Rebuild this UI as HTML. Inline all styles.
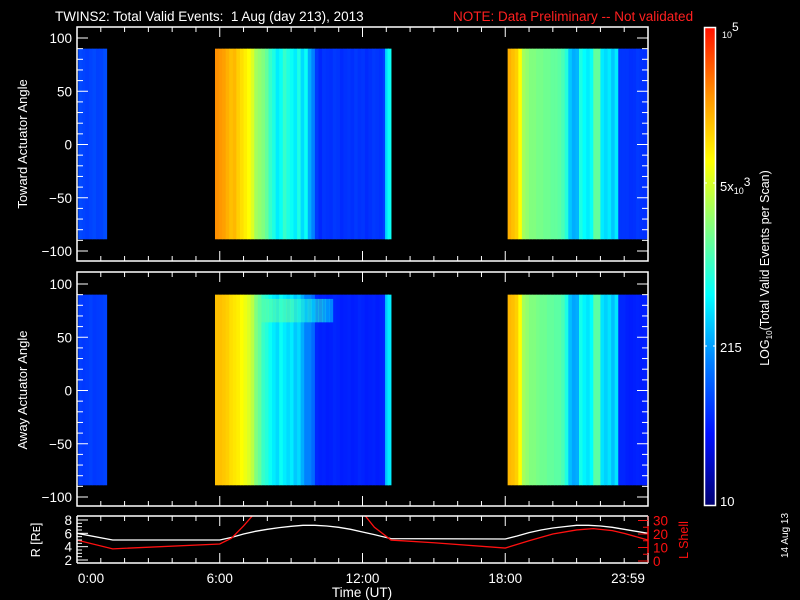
<!DOCTYPE html>
<html><head><meta charset="utf-8"><style>
html,body{margin:0;padding:0;background:#000;}
svg{display:block;font-family:"Liberation Sans",sans-serif;}
</style></head><body>
<svg id="chart" width="800" height="600" viewBox="0 0 800 600">
<defs>
<linearGradient id="cbar" x1="0" y1="1" x2="0" y2="0">
<stop offset="0" stop-color="#000070"/><stop offset="0.15" stop-color="#0010ff"/><stop offset="0.3" stop-color="#0080ff"/>
<stop offset="0.44" stop-color="#00ffff"/><stop offset="0.58" stop-color="#80ff80"/><stop offset="0.72" stop-color="#ffff00"/>
<stop offset="0.86" stop-color="#ff9000"/><stop offset="1" stop-color="#ff1000"/>
</linearGradient>
<clipPath id="bclip"><rect x="77" y="516" width="571" height="47"/></clipPath>
</defs>
<rect x="0" y="0" width="800" height="600" fill="#000"/>
<text x="55" y="21" font-size="13.5" fill="#fff" xml:space="preserve">TWINS2: Total Valid Events:  1 Aug (day 213), 2013</text>
<text x="453" y="21" font-size="13.5" fill="#ff2020">NOTE: Data Preliminary -- Not validated</text>
<g id="p1"></g>
<g id="p2"></g>
<g id="p3"></g>
<g id="cb">
<rect x="704.5" y="27.5" width="11" height="478" fill="url(#cbar)" stroke="#fff" stroke-width="1.5"/>
<line x1="704" y1="183" x2="716" y2="183" stroke="#fff" stroke-dasharray="3,6"/>
<line x1="704" y1="346" x2="716" y2="346" stroke="#fff" stroke-dasharray="3,6"/>
<text x="722" y="38" font-size="9" fill="#fff">10<tspan dy="-7" font-size="12">5</tspan></text>
<text x="720" y="191" font-size="13" fill="#fff">5x<tspan font-size="9" dy="3">10</tspan><tspan dy="-8" font-size="12">3</tspan></text>
<text x="720" y="352" font-size="13" fill="#fff">215</text>
<text x="720" y="506" font-size="13" fill="#fff">10</text>
<text transform="translate(769,268) rotate(-90)" text-anchor="middle" font-size="12.5" fill="#fff">LOG<tspan font-size="8" dy="3">10</tspan><tspan dy="-3">(Total Valid Events per Scan)</tspan></text>
</g>
<text transform="translate(788,558) rotate(-90)" font-size="10" fill="#fff">14 Aug 13</text>
</svg>
<script>
const binStart = [0.05,0.2,0.35,0.5,0.65,0.8,0.95,1.1,
5.8,5.95,6.1,6.25,6.4,6.55,6.7,6.85,7.0,7.15,7.3,7.45,7.6,7.75,7.9,8.05,8.2,8.35,8.5,8.65,8.8,8.95,9.1,9.25,9.4,9.55,9.7,9.85,
10.0,10.15,10.3,10.45,10.6,10.75,10.9,11.05,11.2,11.35,11.5,11.65,11.8,11.95,12.1,12.25,12.4,12.55,12.7,12.85,12.95,13.05,
18.1,18.25,18.4,18.55,18.7,18.85,19.0,19.15,19.3,19.45,19.6,19.75,19.9,20.05,20.2,20.35,20.5,20.65,20.8,20.95,21.1,21.25,21.4,21.55,21.7,21.85,22.0,22.15,22.3,22.45,22.6,22.75,22.9,
23.05,23.2,23.35,23.5,23.65,23.8];
const towardCounts = [80,75,70,75,80,72,75,85,
27500,25100,23000,19000,15800,17300,13200,11000,9100,7600,5250,3000,2500,2100,1580,1000,760,480,630,1000,760,630,480,760,400,630,250,160,
66,52,63,60,58,66,63,55,60,63,58,66,60,63,55,60,66,63,58,70,400,630,
19000,15800,13200,7600,3000,2500,2100,2100,1900,1900,1750,1750,1580,1580,1450,1200,830,330,250,275,760,575,480,630,1580,1580,480,400,480,330,480,63,63,
63,58,60,66,60,58];
const awayCounts = [70,65,68,72,65,68,70,75,
15800,15800,14500,13200,11000,10000,9100,7600,6300,5250,3800,2100,1580,1000,830,630,480,400,630,480,400,480,330,400,250,160,160,120,
52,48,50,46,48,52,50,46,48,50,46,48,52,50,46,48,50,46,48,52,330,480,
17300,15800,13200,7600,3000,2500,2100,2100,1900,1750,1750,1580,1580,1450,1450,1200,760,300,230,250,700,520,440,575,1450,1450,440,360,440,300,440,52,52,
48,46,48,50,46,48];
const binWidth = 0.15;
const awayBandTimes = [7.6,7.75,7.9,8.05,8.2,8.35,8.5,8.65,8.8,8.95,9.1,9.25,9.4,9.55,9.7,9.85,10.0,10.15,10.3,10.45,10.6];
const awayBandCounts = [1500,1500,1600,1700,1600,1500,1400,1600,1700,1500,1200,1000,900,700,900,600,800,900,700,500,400];
const rTimes = [0,1.5,6,6.5,7,7.5,8,8.5,9,9.5,10,10.5,11,11.5,12,12.5,13.2,18,18.5,19,19.5,20,20.5,21,21.5,22,22.5,23,23.5,24];
const rValues = [6.0,5.0,5.0,5.4,5.9,6.3,6.6,6.85,7.05,7.2,7.2,7.1,6.9,6.6,6.2,5.8,5.2,5.15,5.6,6.1,6.5,6.8,7.0,7.2,7.2,7.1,6.9,6.6,6.3,6.0];
const lTimes = [0,1.5,6,6.5,7,7.5,12,12.5,13.2,15,18,19,20,21,21.7,22.5,23,24];
const lValues = [15.5,9,12.6,17,26,36,36,25,15.5,13.5,9.6,15,20,23,24,22.5,20.5,15.5];
const xTickHours = [0,6,12,18,24];
const xTickLabels = ["0:00","6:00","12:00","18:00","23:59"];
const angleTicks = [100,50,0,-50,-100];
const rTicks = [2,4,6,8];
const lTicks = [0,10,20,30];

const NS="http://www.w3.org/2000/svg";
const X0=77,X1=648;
function xS(h){return X0+h*(X1-X0)/24;}
function yAng(a,c){return c-a*1.065;}
function yR(r){return 560-(r-2)*6.67;}
function yL(l){return 561-l*1.35;}
const stops=[[0,[0,0,112]],[0.15,[0,16,255]],[0.3,[0,128,255]],[0.44,[0,255,255]],[0.58,[128,255,128]],[0.72,[255,255,0]],[0.86,[255,144,0]],[1,[255,16,0]]];
function cmap(v){let t=(Math.log10(v)-1)/4;t=Math.max(0,Math.min(1,t));
 for(let i=1;i<stops.length;i++){if(t<=stops[i][0]){const a=stops[i-1],b=stops[i];const f=(t-a[0])/(b[0]-a[0]);
 const c=a[1].map((q,k)=>Math.round(q+(b[1][k]-q)*f));return `rgb(${c[0]},${c[1]},${c[2]})`;}}return "rgb(255,16,0)";}
function mk(tag,attrs,parent){const e=document.createElementNS(NS,tag);for(const k in attrs)e.setAttribute(k,attrs[k]);parent.appendChild(e);return e;}

function specPanel(g,counts,top,bot,center,band){
 for(let i=0;i<binStart.length;i++){
  const x=xS(binStart[i]);const w=xS(binStart[i]+binWidth)-x;
  const r=mk('rect',{x:x,y:yAng(90,center),width:w+0.4,height:yAng(-89,center)-yAng(90,center),fill:cmap(counts[i])},g);
  
  
 }
 if(band){for(let i=0;i<awayBandTimes.length;i++){
  const x=xS(awayBandTimes[i]);const w=xS(awayBandTimes[i]+binWidth)-x;
  const r=mk('rect',{x:x,y:yAng(86,center),width:w+0.4,height:yAng(64,center)-yAng(86,center),fill:cmap(awayBandCounts[i]),opacity:0.55},g);
  
  
 }}
 mk('rect',{x:X0,y:top,width:X1-X0,height:bot-top,fill:'none',stroke:'#fff','stroke-width':1.5},g);
 for(let h=0;h<=24;h++){const x=xS(h);const L=(h%6===0)?10:5;
  mk('line',{x1:x,y1:bot,x2:x,y2:bot-L,stroke:'#fff'},g);mk('line',{x1:x,y1:top,x2:x,y2:top+L,stroke:'#fff'},g);}
 for(let a=-100;a<=100;a+=10){const y=yAng(a,center);if(y<top||y>bot)continue;const L=(a%50===0)?11:6;
  mk('line',{x1:X0,y1:y,x2:X0+L,y2:y,stroke:'#fff'},g);mk('line',{x1:X1,y1:y,x2:X1-L,y2:y,stroke:'#fff'},g);}
 angleTicks.forEach(a=>{const t=mk('text',{x:72,y:yAng(a,center)+5,'text-anchor':'end','font-size':13.5,fill:'#fff'},g);t.textContent=(a<0?'\u2212':'')+Math.abs(a);
  
  });
}
const p1=document.getElementById('p1'),p2=document.getElementById('p2'),p3=document.getElementById('p3');
specPanel(p1,towardCounts,27,261,144.5,false);
specPanel(p2,awayCounts,272,506,390.5,true);
let t1=mk('text',{transform:'translate(27,144) rotate(-90)','text-anchor':'middle','font-size':13,fill:'#fff'},p1);t1.textContent='Toward Actuator Angle';


let t2=mk('text',{transform:'translate(27,390) rotate(-90)','text-anchor':'middle','font-size':13,fill:'#fff'},p2);t2.textContent='Away Actuator Angle';



const T=516,B=563;
const cg=mk('g',{'clip-path':'url(#bclip)'},p3);
const rl=mk('polyline',{points:rTimes.map((h,i)=>xS(h)+','+yR(rValues[i])).join(' '),fill:'none',stroke:'#fff','stroke-width':1.3},cg);


const ll=mk('polyline',{points:lTimes.map((h,i)=>xS(h)+','+yL(lValues[i])).join(' '),fill:'none',stroke:'#ff1010','stroke-width':1.3},cg);


mk('line',{x1:X0,y1:T,x2:X1,y2:T,stroke:'#fff','stroke-width':1.5},p3);
mk('line',{x1:X0,y1:B,x2:X1,y2:B,stroke:'#fff','stroke-width':1.5},p3);
mk('line',{x1:X0,y1:T,x2:X0,y2:B,stroke:'#fff','stroke-width':1.5},p3);
mk('line',{x1:X1,y1:T,x2:X1,y2:B,stroke:'#ff1010','stroke-width':1.5},p3);
for(let h=0;h<=24;h++){const x=xS(h);const L=(h%6===0)?10:5;
 mk('line',{x1:x,y1:B,x2:x,y2:B-L,stroke:'#fff'},p3);mk('line',{x1:x,y1:T,x2:x,y2:T+L,stroke:'#fff'},p3);}
for(let r=2;r<=8;r+=0.5){const y=yR(r);const L=(r%2===0)?11:5;mk('line',{x1:X0,y1:y,x2:X0+L,y2:y,stroke:'#fff'},p3);}
rTicks.forEach(r=>{const t=mk('text',{x:72,y:yR(r)+5,'text-anchor':'end','font-size':13.5,fill:'#fff'},p3);t.textContent=r;
 
 });
for(let l=0;l<=30;l+=5){const y=yL(l);const L=(l%10===0)?10:5;mk('line',{x1:X1,y1:y,x2:X1-L,y2:y,stroke:'#ff1010'},p3);}
lTicks.forEach(l=>{const t=mk('text',{x:653,y:yL(l)+5,'font-size':13.5,fill:'#ff1010'},p3);t.textContent=l;
 
 });
xTickHours.forEach((h,i)=>{let x=xS(h);if(i===0)x+=14;if(i===4)x-=20;
 const t=mk('text',{x:x,y:583,'text-anchor':'middle','font-size':13.5,fill:'#fff'},p3);t.textContent=xTickLabels[i];
 
 });
let tx=mk('text',{x:362,y:597,'text-anchor':'middle','font-size':13.5,fill:'#fff'},p3);tx.textContent='Time (UT)';


let tr=mk('text',{transform:'translate(40,540) rotate(-90)','text-anchor':'middle','font-size':12.5,fill:'#fff'},p3);tr.textContent='R [R\u1D07]';


let tl=mk('text',{transform:'translate(688,540) rotate(-90)','text-anchor':'middle','font-size':12.5,fill:'#ff1010'},p3);tl.textContent='L Shell';


</script>
</body></html>
